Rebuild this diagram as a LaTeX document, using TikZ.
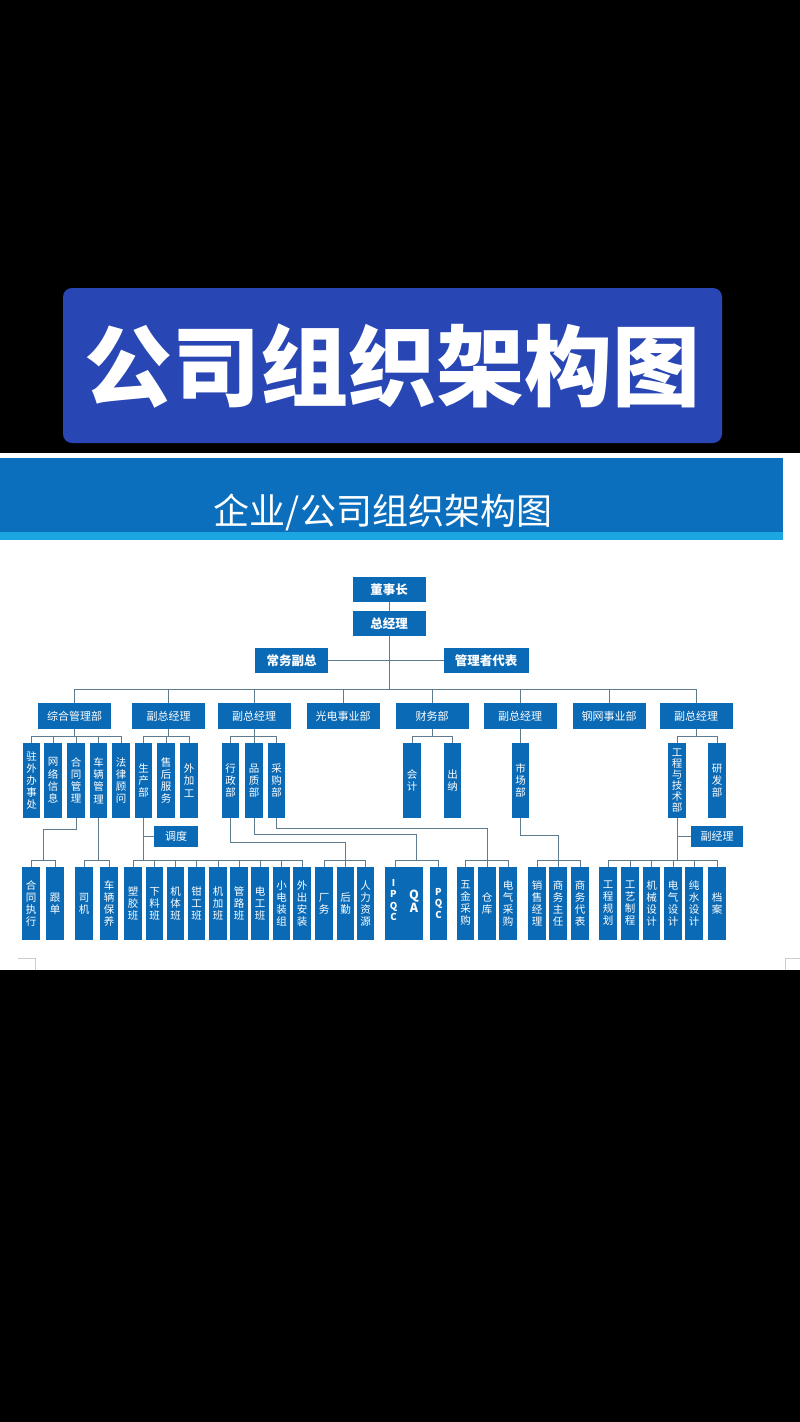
\documentclass[tikz,border=0pt]{standalone}
\usepackage{fontspec}
\newfontfamily\cjk{Noto Sans CJK SC}
\usetikzlibrary{calc}
\definecolor{bigblue}{HTML}{2846B4}
\definecolor{hdrblue}{HTML}{0B6FBE}
\definecolor{hdrcyan}{HTML}{1BA6E2}
\definecolor{boxblue}{HTML}{0A6AB6}
\definecolor{linegray}{HTML}{5F7C8E}
\begin{document}
\begin{tikzpicture}[x=1pt,y=-1pt,
  base/.style={fill=boxblue,text=white,inner sep=0pt,outer sep=0pt},
  topbox/.style={base,minimum width=73pt,minimum height=25.5pt,font=\cjk\bfseries\fontsize{12.5}{14}\selectfont},
  hbox/.style={base,minimum width=73pt,minimum height=26pt,font=\cjk\fontsize{11}{13}\selectfont},
  vbox/.style={base,minimum width=17.5pt,minimum height=75pt,align=center,font=\cjk\fontsize{10.5}{12.2}\selectfont},
  wbox/.style={base,minimum width=17.5pt,minimum height=73pt,align=center,font=\cjk\fontsize{10.5}{12}\selectfont},
  sbox/.style={base,minimum height=21pt,font=\cjk\fontsize{11}{13}\selectfont},
  conn/.style={draw=linegray,line width=0.9pt}]
\useasboundingbox (0,0) rectangle (800,1422);
\fill[black] (0,0) rectangle (800,1422);
\fill[bigblue,rounded corners=9pt] (63,288) rectangle (722,443);
\node[text=white,font=\cjk\bfseries\fontsize{88}{88}\selectfont] (bigtitle) at (392.5,366) {公司组织架构图};
\fill[white] (0,453) rectangle (800,970);
\fill[hdrblue] (0,458) rectangle (783,532);
\fill[hdrcyan] (0,532) rectangle (783,540);
\node[text=white,font=\cjk\fontsize{36}{36}\selectfont] (subtitle) at (383,512) {企业/公司组织架构图};
\draw[gray!40,line width=0.8pt] (18,958) -- (35,958) -- (35,970);
\draw[gray!40,line width=0.8pt] (785,970) -- (785,958) -- (800,958);

% top
\node[topbox] (dsz) at (389,589.5) {董事长};
\node[topbox] (zjl) at (389,623.5) {总经理};
\node[topbox] (cwfz) at (291.5,660.5) {常务副总};
\node[topbox,minimum width=85pt] (glz) at (486,660.5) {管理者代表};

% level 2
\node[hbox] (l2a) at (74.5,716) {综合管理部};
\node[hbox] (l2b) at (168.5,716) {副总经理};
\node[hbox] (l2c) at (254,716) {副总经理};
\node[hbox] (l2d) at (343,716) {光电事业部};
\node[hbox] (l2e) at (432,716) {财务部};
\node[hbox] (l2f) at (520,716) {副总经理};
\node[hbox] (l2g) at (609,716) {钢网事业部};
\node[hbox] (l2h) at (696,716) {副总经理};

% level 3
\node[vbox] (a1) at (31.5,780.5) {驻\\外\\办\\事\\处};
\node[vbox] (a2) at (53,780.5) {网\\络\\信\\息};
\node[vbox] (a3) at (76,780.5) {合\\同\\管\\理};
\node[vbox] (a4) at (98.5,780.5) {车\\辆\\管\\理};
\node[vbox] (a5) at (121,780.5) {法\\律\\顾\\问};
\node[vbox] (b1) at (143.5,780.5) {生\\产\\部};
\node[vbox] (b2) at (166,780.5) {售\\后\\服\\务};
\node[vbox] (b3) at (189,780.5) {外\\加\\工};
\node[vbox] (c1) at (230.5,780.5) {行\\政\\部};
\node[vbox] (c2) at (254,780.5) {品\\质\\部};
\node[vbox] (c3) at (276.5,780.5) {采\\购\\部};
\node[vbox] (e1) at (412,780.5) {会\\计};
\node[vbox] (e2) at (452.5,780.5) {出\\纳};
\node[vbox] (f1) at (520.5,780.5) {市\\场\\部};
\node[vbox,font=\cjk\fontsize{10.5}{11}\selectfont] (h1) at (677,780.5) {工\\程\\与\\技\\术\\部};
\node[vbox] (h2) at (717,780.5) {研\\发\\部};

\node[sbox,minimum width=44pt] (dd) at (176,836.5) {调度};
\node[sbox,minimum width=52pt] (fjl) at (717,836.5) {副经理};

% level 4
\node[wbox] (d1) at (31,903.5) {合\\同\\执\\行};
\node[wbox] (d2) at (55,903.5) {跟\\单};
\node[wbox] (d3) at (84,903.5) {司\\机};
\node[wbox] (d4) at (109,903.5) {车\\辆\\保\\养};
\node[wbox] (p1) at (133,903.5) {塑\\胶\\班};
\node[wbox] (p2) at (154.5,903.5) {下\\料\\班};
\node[wbox] (p3) at (175.5,903.5) {机\\体\\班};
\node[wbox] (p4) at (196.5,903.5) {钳\\工\\班};
\node[wbox] (p5) at (218,903.5) {机\\加\\班};
\node[wbox] (p6) at (239,903.5) {管\\路\\班};
\node[wbox] (p7) at (260,903.5) {电\\工\\班};
\node[wbox] (p8) at (281.5,903.5) {小\\电\\装\\组};
\node[wbox] (p9) at (302,903.5) {外\\出\\安\\装};
\node[wbox] (x1) at (324,903.5) {厂\\务};
\node[wbox] (x2) at (345.5,903.5) {后\\勤};
\node[wbox] (x3) at (365.5,903.5) {人\\力\\资\\源};
\node[wbox,minimum width=38pt] (q1) at (404,903.5) {};
\node[text=white,align=center,inner sep=0pt,font=\cjk\bfseries\fontsize{9.5}{11.5}\selectfont] (ipqc) at (393.5,900) {I\\P\\Q\\C};
\node[text=white,align=center,inner sep=0pt,font=\cjk\bfseries\fontsize{12.5}{12.5}\selectfont] (qa) at (414,901) {Q\\A};
\node[wbox,font=\cjk\bfseries\fontsize{9.5}{11.5}\selectfont] (q2) at (438.5,903.5) {P\\Q\\C};
\node[wbox] (g1) at (465.5,903.5) {五\\金\\采\\购};
\node[wbox] (g2) at (487,903.5) {仓\\库};
\node[wbox] (g3) at (508,903.5) {电\\气\\采\\购};
\node[wbox] (s1) at (537,903.5) {销\\售\\经\\理};
\node[wbox] (s2) at (558,903.5) {商\\务\\主\\任};
\node[wbox] (s3) at (580,903.5) {商\\务\\代\\表};
\node[wbox] (t1) at (608,903.5) {工\\程\\规\\划};
\node[wbox] (t2) at (630,903.5) {工\\艺\\制\\程};
\node[wbox] (t3) at (651.5,903.5) {机\\械\\设\\计};
\node[wbox] (t4) at (673,903.5) {电\\气\\设\\计};
\node[wbox] (t5) at (694,903.5) {纯\\水\\设\\计};
\node[wbox] (t6) at (717,903.5) {档\\案};

% bus coordinates
\coordinate (bus2) at (0,689);
\coordinate (bus3) at (0,736);
\coordinate (bus4) at (0,860);

% top connectors
\draw[conn] (dsz.south) -- (zjl.north);
\draw[conn] (cwfz.east) -- (glz.west);
\draw[conn] (zjl.south) -- (zjl.south |- bus2);
\draw[conn] (l2a.north) -- (l2a.north |- bus2) -| (l2h.north);
\foreach \n in {l2b,l2c,l2d,l2e,l2f,l2g} \draw[conn] (\n.north) -- (\n.north |- bus2);

% level 3 groups
\foreach \p/\f/\l/\m in {l2a/a1/a5/{a2,a3,a4}, l2b/b1/b3/{b2}, l2c/c1/c3/{c2}, l2h/h1/h2/{}} {
  \draw[conn] (\p.south) -- (\p.south |- bus3);
  \draw[conn] (\f.north) -- (\f.north |- bus3) -| (\l.north);
  \foreach \k in \m {\draw[conn] (\k.north) -- (\k.north |- bus3);}
}
\draw[conn] (l2e.south) -- (l2e.south |- bus3);
\draw[conn] (e1.north) -- (e1.north |- bus3) -| (e2.north);
\draw[conn] (l2f.south) -- (l2f.south |- f1.north);

% level 4 groups
\coordinate (j1) at (43,829);
\coordinate (j2) at (345.5,842);
\coordinate (j3) at (416,834);
\coordinate (j4) at (487,828.5);
\coordinate (j5) at (558,835);
\draw[conn] (a3.south) |- (j1) -- (j1 |- bus4);
\draw[conn] (d1.north) -- (d1.north |- bus4) -| (d2.north);
\draw[conn] (a4.south) -- (a4.south |- bus4);
\draw[conn] (d3.north) -- (d3.north |- bus4) -| (d4.north);
\draw[conn] (b1.south) -- (b1.south |- bus4);
\draw[conn] (b1.south |- dd.west) -- (dd.west);
\draw[conn] (p1.north) -- (p1.north |- bus4) -| (p9.north);
\foreach \k in {p2,p3,p4,p5,p6,p7,p8} \draw[conn] (\k.north) -- (\k.north |- bus4);
\draw[conn] (c1.south) |- (j2) -- (x2.north);
\draw[conn] (x1.north) -- (x1.north |- bus4) -| (x3.north);
\draw[conn] (c2.south) |- (j3) -- (j3 |- bus4);
\draw[conn] ([xshift=-9pt]q1.north) -- ([xshift=-9pt]q1.north |- bus4) -| (q2.north);
\draw[conn] (c3.south) |- (j4) -- (g2.north);
\draw[conn] (g1.north) -- (g1.north |- bus4) -| (g3.north);
\draw[conn] (f1.south) |- (j5) -- (s2.north);
\draw[conn] (s1.north) -- (s1.north |- bus4) -| (s3.north);
\draw[conn] (h1.south) -- (h1.south |- bus4);
\draw[conn] (h1.south |- fjl.west) -- (fjl.west);
\draw[conn] (t1.north) -- (t1.north |- bus4) -| (t6.north);
\foreach \k in {t2,t3,t4,t5} \draw[conn] (\k.north) -- (\k.north |- bus4);
\end{tikzpicture}
\end{document}
